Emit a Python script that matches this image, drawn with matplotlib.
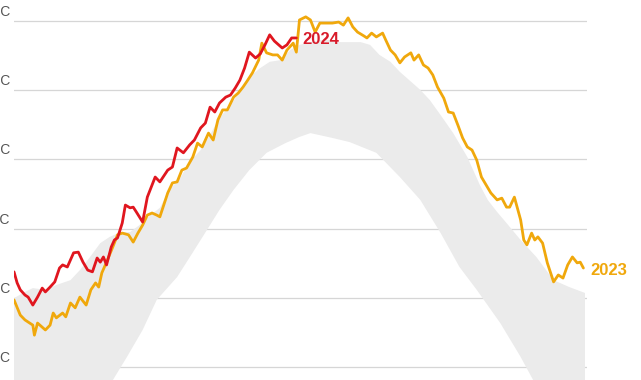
import numpy as np
import matplotlib
matplotlib.use("Agg")
import matplotlib.pyplot as plt

# Gridline values (°C), the labels are cut by the left edge of the picture
grid_values = [18, 20, 22, 24, 26, 28]
grid_labels = ["18°C", "20°C", "22°C", "24°C", "26°C", "28°C"]

# 2023, day of year and temperature
days_2023 = [1, 5, 8, 13, 14, 16, 21, 24, 26, 28,
             32, 34, 37, 40, 43, 47, 50, 53, 55, 57,
             60, 64, 67, 70, 74, 77, 80, 83, 86, 89,
             92, 94, 99, 102, 105, 108, 111, 115, 118, 121,
             125, 128, 131, 134, 137, 141, 144, 147, 150, 153,
             157, 159, 162, 166, 169, 172, 175, 179, 181, 183,
             187, 190, 193, 196, 201, 204, 208, 211, 214, 217,
             220, 224, 226, 229, 232, 236, 238, 241, 244, 247,
             250, 254, 256, 259, 262, 265, 268, 271, 275, 278,
             281, 284, 287, 290, 293, 296, 299, 305, 309, 312,
             315, 317, 320, 324, 326, 328, 331, 333, 335, 338,
             341, 345, 348, 351, 354, 357, 360, 362, 364]
temp_2023 = [19.94, 19.50, 19.36, 19.21, 18.92, 19.27, 19.07, 19.21, 19.56, 19.42,
             19.56, 19.45, 19.85, 19.71, 20.02, 19.79, 20.23, 20.43, 20.31, 20.72,
             21.03, 21.47, 21.82, 21.87, 21.82, 21.61, 21.87, 22.10, 22.39, 22.45,
             22.39, 22.34, 23.03, 23.32, 23.35, 23.69, 23.75, 24.07, 24.47, 24.36,
             24.76, 24.56, 25.14, 25.43, 25.43, 25.80, 25.92, 26.09, 26.29, 26.50,
             26.87, 27.36, 27.08, 27.02, 27.02, 26.87, 27.16, 27.36, 27.10, 28.03,
             28.12, 28.03, 27.68, 27.94, 27.94, 27.94, 27.97, 27.88, 28.09, 27.83,
             27.68, 27.57, 27.51, 27.65, 27.54, 27.65, 27.45, 27.16, 27.02, 26.79,
             26.96, 27.08, 26.87, 27.02, 26.73, 26.64, 26.44, 26.09, 25.77, 25.37,
             25.34, 24.99, 24.62, 24.36, 24.27, 23.98, 23.49, 23.03, 22.83, 22.88,
             22.62, 22.62, 22.91, 22.25, 21.67, 21.53, 21.87, 21.67, 21.76, 21.58,
             21.01, 20.46, 20.66, 20.57, 20.95, 21.18, 21.01, 21.03, 20.86]

# 2024 so far
days_2024 = [1, 3, 5, 8, 10, 13, 16, 19, 21, 24,
             27, 30, 32, 35, 39, 42, 45, 48, 51, 54,
             56, 58, 60, 63, 65, 67, 70, 72, 75, 77,
             79, 83, 86, 91, 94, 99, 102, 105, 109, 113,
             116, 120, 123, 126, 129, 132, 136, 139, 142, 145,
             148, 151, 155, 158, 161, 164, 167, 172, 175, 178,
             181]
temp_2024 = [20.75, 20.43, 20.23, 20.08, 20.02, 19.79, 20.02, 20.28, 20.17, 20.31,
             20.46, 20.86, 20.95, 20.89, 21.30, 21.32, 21.03, 20.80, 20.75, 21.15,
             21.03, 21.18, 20.95, 21.47, 21.67, 21.73, 22.16, 22.68, 22.60, 22.62,
             22.48, 22.19, 22.91, 23.49, 23.35, 23.69, 23.78, 24.33, 24.19, 24.42,
             24.56, 24.91, 25.05, 25.51, 25.37, 25.63, 25.80, 25.86, 26.06, 26.29,
             26.64, 27.10, 26.93, 27.05, 27.31, 27.60, 27.42, 27.22, 27.31, 27.51,
             27.51]

# Range of earlier years: upper and lower edge of the grey band
band_top_days = [1, 8, 13, 21, 28, 37, 43, 49, 56, 62, 69, 75, 81, 88, 94,
                 100, 107, 113, 120, 126, 132, 139, 145, 151, 158, 164, 171,
                 177, 183, 190, 196, 202, 209, 215, 222, 228, 234, 241, 247,
                 253, 260, 266, 273, 281, 290, 298, 303, 309, 315, 324, 334,
                 345, 355, 365]
band_top = [19.99, 20.17, 20.28, 20.23, 20.37, 20.51, 20.80, 21.15, 21.58, 21.76,
            21.90, 21.90, 22.10, 22.39, 22.60, 23.12, 23.46, 23.93, 24.27, 24.71,
            25.20, 25.57, 25.95, 26.38, 26.64, 26.82, 26.87, 27.16, 27.31, 27.39,
            27.45, 27.45, 27.39, 27.39, 27.39, 27.31, 27.02, 26.82, 26.53, 26.29,
            26.01, 25.72, 25.28, 24.76, 24.07, 23.26, 22.83, 22.48, 22.16, 21.67,
            21.18, 20.51, 20.31, 20.14]
band_low_days = [1, 30, 56, 64, 73, 83, 92, 105, 114, 124, 132, 141, 151, 162,
                 174, 183, 190, 204, 215, 232, 247, 260, 273, 285, 296, 311, 324,
                 332, 349, 365]
band_low = [15.02, 16.18, 17.19, 17.62, 18.29, 19.07, 19.94, 20.60, 21.24, 21.96,
            22.54, 23.12, 23.69, 24.19, 24.47, 24.65, 24.76, 24.62, 24.50, 24.19,
            23.49, 22.83, 21.87, 20.89, 20.23, 19.27, 18.29, 17.62, 16.47, 15.60]

orange = "#f0a80c"
red = "#e0161f"

fig = plt.figure(figsize=(6.41, 3.80), dpi=100)
ax = fig.add_axes([14 / 641, 0, 573 / 641, 1])
ax.set_xlim(1, 366.3)
ax.set_ylim(17.624, 28.607)

# grid
ax.set_yticks(grid_values)
ax.grid(axis="y", color="#d6d6d6", linewidth=0.9)
ax.set_axisbelow(True)
ax.tick_params(length=0, labelleft=False, labelbottom=False)
for s in ax.spines.values():
    s.set_visible(False)

for v, lab in zip(grid_values, grid_labels):
    ax.annotate(lab, xy=(0, v), xycoords=("axes fraction", "data"),
                xytext=(-4, 2), textcoords="offset pixels",
                ha="right", va="bottom", fontsize=10, color="#555555",
                family="Liberation Sans", annotation_clip=False)

# grey band of previous years
band_x = np.concatenate([band_top_days, band_low_days[::-1]])
band_y = np.concatenate([band_top, band_low[::-1]])
ax.fill(band_x, band_y, color="#ebebeb", lw=0, zorder=1)

ax.plot(days_2023, temp_2023, color=orange, lw=2.0, zorder=3,
        solid_joinstyle="round", solid_capstyle="round")
ax.plot(days_2024, temp_2024, color=red, lw=2.0, zorder=4,
        solid_joinstyle="round", solid_capstyle="round")

ax.annotate("2023", xy=(days_2023[-1], temp_2023[-1]), xytext=(7, -2),
            textcoords="offset pixels", ha="left", va="center",
            fontsize=12, fontweight="bold", color=orange,
            family="Liberation Sans", annotation_clip=False)
ax.annotate("2024", xy=(days_2024[-1], temp_2024[-1]), xytext=(6, -2),
            textcoords="offset pixels", ha="left", va="center",
            fontsize=12, fontweight="bold", color="#d81b2a",
            family="Liberation Sans", annotation_clip=False)

fig.savefig("out.png", dpi=100)
